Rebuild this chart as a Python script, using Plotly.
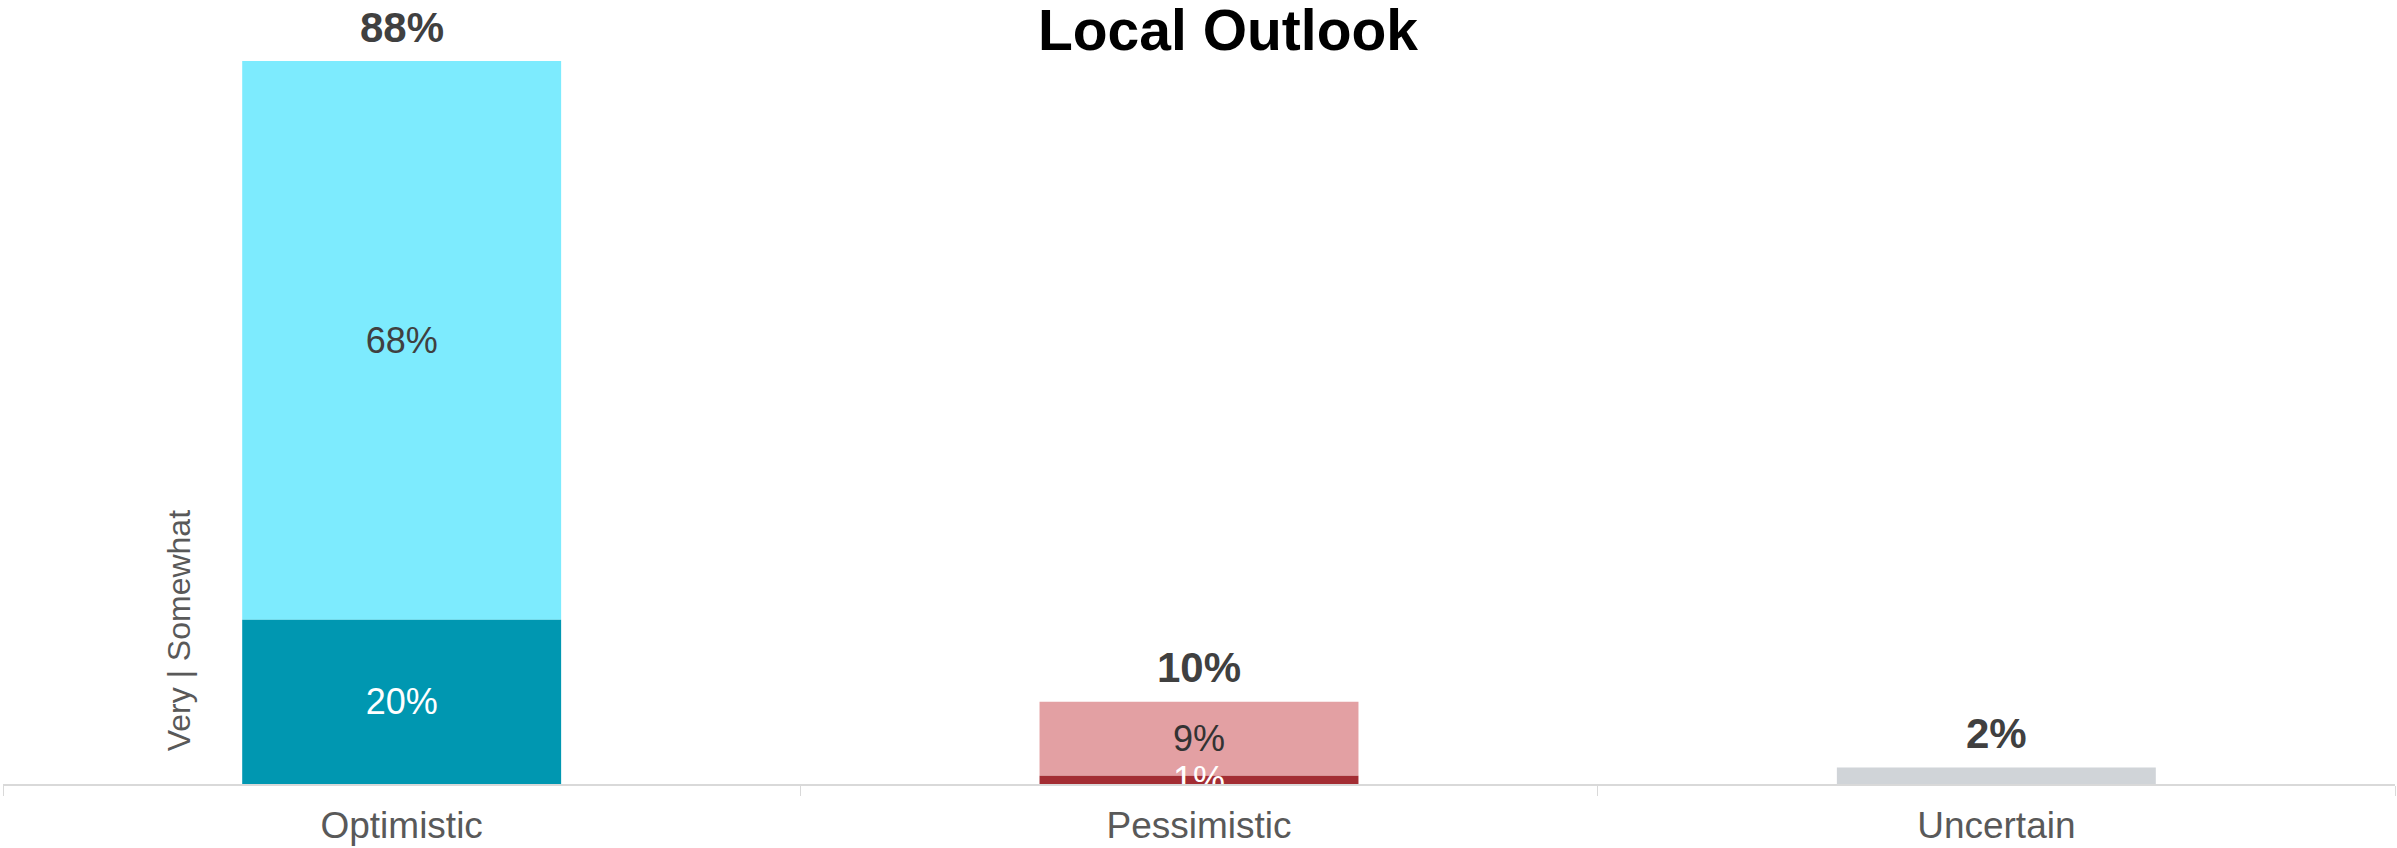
import plotly.graph_objects as go

# Survey responses, in percent
categories = ["Optimistic", "Pessimistic", "Uncertain"]
strong = [20, 1, 2]        # "Very" share (bottom segment)
moderate = [68, 9, 0]      # "Somewhat" share (top segment)
strong_labels = ["20%", "1%", ""]
moderate_labels = ["68%", "9%", ""]
totals = [s + m for s, m in zip(strong, moderate)]
total_labels = [f"{t}%" for t in totals]

strong_colors = ["#0097B1", "#A32D33", "#D0D4D8"]
moderate_colors = ["#7DEBFE", "#E3A0A3", "#D0D4D8"]
strong_text_colors = ["#FFFFFF", "#FFFFFF", "#FFFFFF"]
moderate_text_colors = ["#404040", "#333333", "#404040"]

FONT = "Liberation Sans, Arial, sans-serif"

fig = go.Figure()
# Upper segment first, sitting on top of the lower one, so the lower
# segment's label is painted over it
fig.add_trace(go.Bar(
    x=categories, y=moderate, base=strong, name="Somewhat",
    marker=dict(color=moderate_colors, line=dict(width=0)),
    text=moderate_labels, textposition="inside", insidetextanchor="middle",
    constraintext="none", cliponaxis=True,
    textfont=dict(family=FONT, size=36, color=moderate_text_colors),
    hoverinfo="skip",
))
fig.add_trace(go.Bar(
    x=categories, y=strong, name="Very",
    marker=dict(color=strong_colors, line=dict(width=0)),
    text=strong_labels, textposition="inside", insidetextanchor="middle",
    constraintext="none", cliponaxis=True,
    textfont=dict(family=FONT, size=36, color=strong_text_colors),
    hoverinfo="skip",
))

# Bold totals above each stack
for cat, tot, lab in zip(categories, totals, total_labels):
    fig.add_annotation(
        x=cat, y=tot, text=f"<b>{lab}</b>", showarrow=False,
        yanchor="middle", yshift=34,
        font=dict(family=FONT, size=42, color="#404040"),
    )

# Segment legend written along the left side
fig.add_annotation(
    xref="paper", yref="paper", x=0.0736, y=0.200,
    text="Very | Somewhat", textangle=-90, showarrow=False,
    xanchor="center", yanchor="middle",
    font=dict(family=FONT, size=32, color="#595959"),
)

fig.update_layout(
    width=2397, height=848,
    margin=dict(l=3, r=2, t=20, b=64),
    barmode="overlay", bargap=0.6,
    showlegend=False,
    paper_bgcolor="white", plot_bgcolor="white",
    font=dict(family=FONT),
    title=dict(
        text="<b>Local Outlook</b>", x=0.5123, y=0.964,
        xanchor="center", yanchor="middle",
        font=dict(family=FONT, size=57, color="#000000"),
    ),
    xaxis=dict(
        showline=True, linecolor="#D9D9D9", linewidth=2,
        ticks="outside", tickson="boundaries", ticklen=10, tickcolor="#D9D9D9",
        ticklabelstandoff=8,
        tickfont=dict(family=FONT, size=37, color="#595959"),
        showgrid=False, zeroline=False,
    ),
    yaxis=dict(
        range=[0, 93.0], visible=False, showgrid=False, zeroline=False,
    ),
)

fig.write_html("out.html")
